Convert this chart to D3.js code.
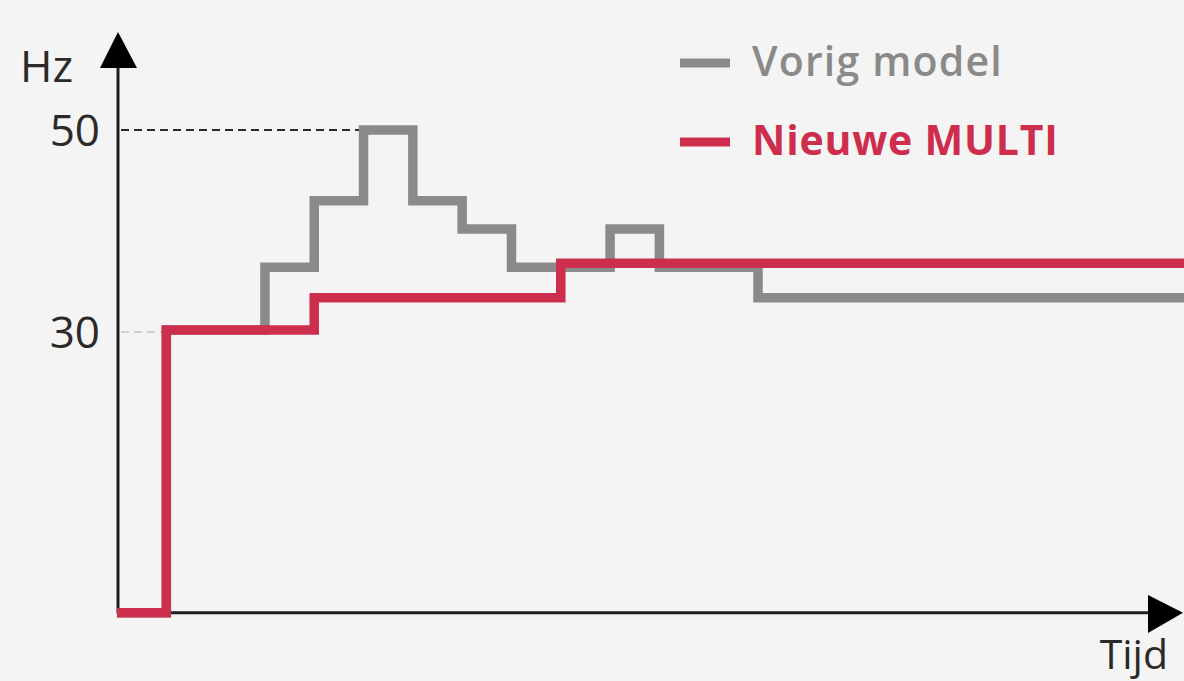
<!DOCTYPE html>
<html><head><meta charset="utf-8">
<script src="https://cdn.jsdelivr.net/npm/d3@7"></script>
<style>
html,body{margin:0;padding:0;background:#f4f4f4;}
svg{display:block;}
text{font-family:"Open Sans",sans-serif;}
</style></head>
<body>
<svg id="c" width="1184" height="681"></svg>
<script>
// ---- data ----
const seriesNames = ["Vorig model", "Nieuwe MULTI"];
const baseValue = 2.2;              // Hz level of the time axis
const grayTimes  = [0, 1, 3, 4, 5, 6, 7, 8, 10, 11, 13, 21.7];
const grayValues = [2.2, 30.2, 36.4, 43, 50, 43, 40.2, 36.4, 40.2, 36.4, 33.4, 33.4];
const redTimes   = [0, 1, 4, 9, 21.7];
const redValues  = [2.2, 30.2, 33.4, 36.8, 36.8];
const yTicks = [30, 50];
const yLabel = "Hz";
const xLabel = "Tijd";

// ---- layout ----
const svg = d3.select("#c");
const x = d3.scaleLinear().domain([0, 21.7]).range([117, 1187]);
const y = d3.scaleLinear().domain([30, 50]).range([332, 130]);
const grayCol = "#8a8a8a", redCol = "#cd2e4e", axisCol = "#1e1e1e";

// reference dashes
svg.append("line").attr("x1", x(0)+4).attr("x2", 392).attr("y1", y(50)).attr("y2", y(50))
  .attr("stroke", "#2a2a2a").attr("stroke-width", 2).attr("stroke-dasharray", "8,5");
svg.append("line").attr("x1", x(0)+4).attr("x2", x(1)).attr("y1", y(30)).attr("y2", y(30))
  .attr("stroke", "#cfcfcf").attr("stroke-width", 2).attr("stroke-dasharray", "8,5");

// axes
const xAxisY = y(baseValue);
svg.append("line").attr("x1", x(0)).attr("x2", 1152).attr("y1", xAxisY).attr("y2", xAxisY)
  .attr("stroke", axisCol).attr("stroke-width", 3);
svg.append("path").attr("d", `M1148,595 L1183,${xAxisY} L1148,633 Z`).attr("fill", "#000");
svg.append("line").attr("x1", 118).attr("x2", 118).attr("y1", xAxisY+1).attr("y2", 64)
  .attr("stroke", axisCol).attr("stroke-width", 3);
svg.append("path").attr("d", "M100,68 L118,32 L137,68 Z").attr("fill", "#000");

const yAxis = d3.axisLeft(y).tickValues(yTicks).tickSize(0).tickPadding(0);
const yg = svg.append("g").attr("transform", "translate(100,0)").call(yAxis);
yg.select(".domain").remove();
yg.selectAll("text").attr("font-size", 44).attr("fill", "#2a2a2a")
  .attr("font-family", "'Open Sans',sans-serif").attr("dy", "0.36em");

svg.append("text").attr("x", 20).attr("y", 82).attr("font-size", 44).attr("fill", "#2a2a2a").text(yLabel);
svg.append("text").attr("x", 1168).attr("y", 669).attr("text-anchor", "end")
  .attr("font-size", 41).attr("fill", "#2a2a2a").text(xLabel);

// series
const line = d3.line().x(d => x(d[0])).y(d => y(d[1])).curve(d3.curveStepAfter);
const gray = d3.zip(grayTimes, grayValues);
const red = d3.zip(redTimes, redValues);
svg.append("path").datum(gray).attr("d", line).attr("fill", "none")
  .attr("stroke", grayCol).attr("stroke-width", 9.5).attr("stroke-linejoin", "miter");
svg.append("path").datum(red).attr("d", line).attr("fill", "none")
  .attr("stroke", redCol).attr("stroke-width", 9.5).attr("stroke-linejoin", "miter");

// legend
const leg = [{name: seriesNames[0], col: grayCol, y: 63, w: 600, ls: 1.2},
             {name: seriesNames[1], col: redCol, y: 142, w: 700, ls: 0.8}];
leg.forEach(l => {
  svg.append("line").attr("x1", 680).attr("x2", 730).attr("y1", l.y).attr("y2", l.y)
    .attr("stroke", l.col).attr("stroke-width", 9);
  svg.append("text").attr("x", 752).attr("y", l.y + 13).attr("font-size", 41)
    .attr("font-weight", l.w).attr("letter-spacing", l.ls).attr("fill", l.col).text(l.name);
});
</script>
</body></html>
